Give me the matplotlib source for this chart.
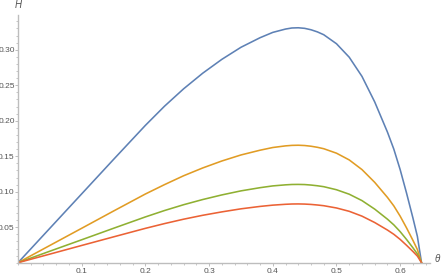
#!/usr/bin/env python3
"""
H versus theta curves, Mathematica-style axes.
"""

import matplotlib.pyplot as plt
from matplotlib.ticker import MultipleLocator, FixedLocator, FixedFormatter

plt.rcParams['font.family'] = ['Liberation Sans', 'DejaVu Sans']

# theta values
theta = [0, 0.05, 0.10, 0.15, 0.20, 0.23, 0.26, 0.29, 0.32, 0.35, 0.38, 0.40, 0.42,
         0.43, 0.44, 0.45, 0.46, 0.47, 0.48, 0.50, 0.52, 0.54, 0.56, 0.58, 0.59,
         0.60, 0.61, 0.62, 0.627, 0.6335]

# H for each curve (top to bottom)
h_blue = [0, 0.0485, 0.097, 0.1455, 0.1935, 0.2205, 0.245, 0.267, 0.2865, 0.3035,
          0.317, 0.3245, 0.3292, 0.3307, 0.331, 0.3302, 0.3282, 0.3252, 0.3212,
          0.3085, 0.2895, 0.2625, 0.2265, 0.184, 0.160, 0.131, 0.098, 0.063, 0.037, 0]
h_orange = [0, 0.0243, 0.0485, 0.0728, 0.0968, 0.110, 0.1225, 0.1335, 0.1433, 0.1518,
            0.1585, 0.1623, 0.1646, 0.1653, 0.1655, 0.1651, 0.1641, 0.1626, 0.1606,
            0.1543, 0.1448, 0.1312, 0.1132, 0.092, 0.080, 0.0655, 0.049, 0.0315,
            0.0185, 0]
h_green = [0, 0.0162, 0.0323, 0.0485, 0.0645, 0.0735, 0.0817, 0.089, 0.0955, 0.1012,
           0.1057, 0.1082, 0.1097, 0.1102, 0.1103, 0.1101, 0.1094, 0.1084, 0.1071,
           0.1028, 0.0965, 0.0875, 0.0755, 0.0613, 0.0533, 0.0437, 0.0327, 0.021,
           0.0123, 0]
h_red = [0, 0.0121, 0.0243, 0.0364, 0.0484, 0.0551, 0.0613, 0.0668, 0.0716, 0.0759,
         0.0793, 0.0811, 0.0823, 0.0827, 0.0828, 0.0826, 0.0821, 0.0813, 0.0803,
         0.0771, 0.0724, 0.0656, 0.0566, 0.046, 0.040, 0.0328, 0.0245, 0.0158,
         0.0093, 0]

x_ticks = [0.1, 0.2, 0.3, 0.4, 0.5, 0.6]
x_tick_labels = ['0.1', '0.2', '0.3', '0.4', '0.5', '0.6']
y_ticks = [0.05, 0.10, 0.15, 0.20, 0.25, 0.30]
y_tick_labels = ['0.05', '0.10', '0.15', '0.20', '0.25', '0.30']

colors = ['#5e81b5', '#e19c24', '#8fb032', '#eb6235']
axis_color = '#bdbdbd'
label_color = '#555555'

fig = plt.figure(figsize=(4.42, 2.77), dpi=100)
ax = fig.add_axes([18 / 442, 14.3 / 277, 412 / 442, 247.7 / 277])

for h, c in zip([h_blue, h_orange, h_green, h_red], colors):
    ax.plot(theta, h, color=c, lw=1.15, solid_joinstyle='round')

ax.set_xlim(0, 0.6468)
ax.set_ylim(0, 0.349)

# Mathematica-like axes: only left and bottom, light gray
for side in ['top', 'right']:
    ax.spines[side].set_visible(False)
for side in ['left', 'bottom']:
    ax.spines[side].set_color(axis_color)
    ax.spines[side].set_linewidth(1.0)

ax.xaxis.set_major_locator(FixedLocator(x_ticks))
ax.xaxis.set_major_formatter(FixedFormatter(x_tick_labels))
ax.yaxis.set_major_locator(FixedLocator(y_ticks))
ax.yaxis.set_major_formatter(FixedFormatter(y_tick_labels))
ax.xaxis.set_minor_locator(MultipleLocator(0.02))
ax.yaxis.set_minor_locator(MultipleLocator(0.01))

ax.tick_params(which='major', length=2.0, width=0.7, color=axis_color,
               labelsize=6, labelcolor=label_color, pad=0.4)
ax.tick_params(which='minor', length=1.4, width=0.6, color=axis_color)
ax.tick_params(axis='x', which='major', pad=1.5)

# axis names at the ends of the axes
fig.text(18 / 442, 1 - 5 / 277, 'H', ha='center', va='center', fontsize=7,
         style='italic', color=label_color)
fig.text(437 / 442, 1 - 259 / 277, 'θ', ha='center', va='center', fontsize=7,
         style='italic', color=label_color)

fig.savefig('out.png', dpi=100)
